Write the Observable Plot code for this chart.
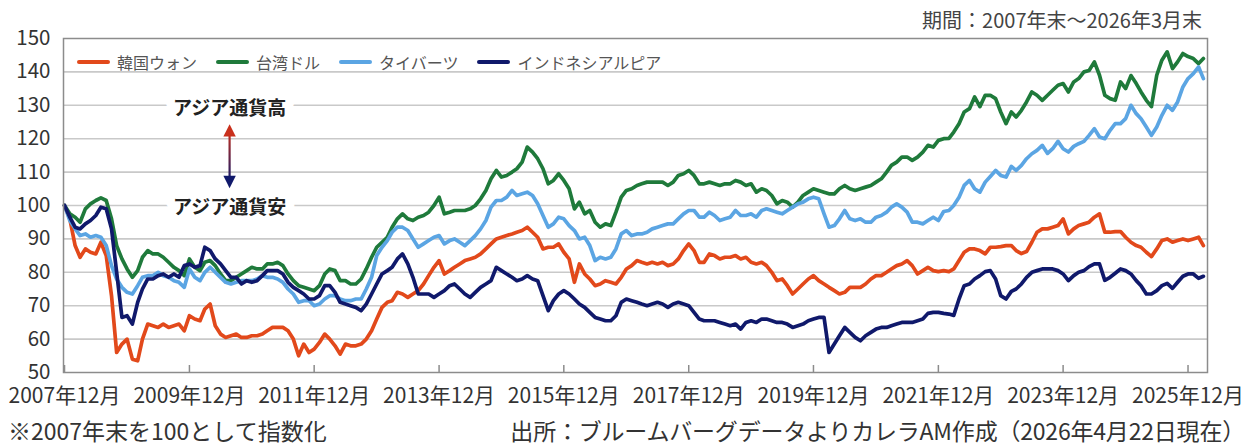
<!DOCTYPE html>
<html><head><meta charset="utf-8">
<script src="https://cdn.jsdelivr.net/npm/d3@7"></script>
<script src="https://cdn.jsdelivr.net/npm/@observablehq/plot@0.6"></script>
<style>
body{margin:0;background:#fff;font-family:"Noto Sans CJK JP","Noto Sans",sans-serif;}
#wrap{position:relative;width:1253px;height:446px;overflow:hidden;}
#period{position:absolute;top:6px;right:51px;font-size:20px;line-height:28px;color:#444;white-space:nowrap;}
#chart{position:absolute;top:30px;left:0;}
#legend{position:absolute;top:50px;left:77px;display:flex;align-items:center;height:24px;font-size:16px;color:#555;white-space:nowrap;}
#legend .sw{width:33px;height:4.5px;border-radius:2px;margin-right:7px;}
#legend .lb{margin-right:19px;}
#noteL{position:absolute;left:8px;top:414px;font-size:23px;line-height:32px;color:#333;white-space:nowrap;}
#noteR{position:absolute;right:8px;top:414px;font-size:23px;line-height:32px;color:#333;white-space:nowrap;letter-spacing:-0.2px;}
</style></head>
<body><div id="wrap">
<div id="period"></div>
<div id="chart"></div>
<div id="legend"></div>
<div id="noteL"></div>
<div id="noteR"></div>
</div>
<script>
const periodText = "期間：2007年末～2026年3月末";
const noteLeft = "※2007年末を100として指数化";
const noteRight = "出所：ブルームバーグデータよりカレラAM作成（2026年4月22日現在）";

const seriesNames = ["韓国ウォン", "台湾ドル", "タイバーツ", "インドネシアルピア"];
const seriesColors = ["#e2491b", "#1f7a3b", "#5ba5e3", "#10196b"];

// monthly index values, 2007-12 … 2026-03 (2007年末 = 100)
const krw = [
 100, 96, 88, 84.5, 87, 86, 85.5, 89, 85, 73, 56, 58.5,
 60, 54, 53.5, 60, 64.5, 64, 63.5, 64.5, 63.5, 64, 64.5, 62.5,
 67, 66, 65.5, 69, 70.5, 64, 61.5, 60.5, 61, 61.5, 60.5, 60.5,
 61, 61, 61.5, 62.5, 63.5, 63.5, 63.5, 62.5, 60, 55, 58.5, 56,
 57, 59, 61.5, 60, 58, 55.5, 58.5, 58, 58, 58.5, 60, 62.5,
 66, 69.5, 71, 71.5, 74, 73.5, 72.5, 73.5, 74.5, 76.5, 79, 81.5,
 83.5, 79.5, 80.5, 81.5, 82.5, 83.5, 84, 84.5, 85.5, 87, 88.5, 90,
 90.5, 91, 91.5, 92, 92.5, 93.5, 92, 90.5, 87, 87.5, 87.5, 88.5,
 86, 84, 77, 82.5, 79.5, 78, 76, 76.5, 77.5, 77, 76.5, 78.5,
 81, 82, 83.5, 83, 82.5, 83, 82.5, 83, 82, 82.5, 84, 86.5,
 88.5, 86.5, 83, 83, 85.5, 85, 84, 84.5, 84.5, 85, 84, 84.5,
 83, 82.5, 83, 82, 80, 77.5, 78, 76, 73.5, 75, 76.5, 78,
 79, 77.5, 76.5, 75.5, 74.5, 73.5, 74, 75.5, 75.5, 75.5, 76.5, 78,
 79, 79, 80, 81, 82, 82.5, 83.5, 82, 79.5, 80.5, 81.5, 80.5,
 80.2, 80.5, 80.2, 81, 83.5, 86, 87, 87, 86.5, 85.5, 87.5, 87.5,
 87.7, 88, 88, 86.5, 85.6, 86.2, 89, 92, 93, 93, 93.5, 94,
 96, 91.5, 93, 94, 94.5, 95, 96.5, 97.5, 92, 92, 92.2, 92.2,
 90.5, 89, 88, 87.5, 86, 84.7, 87, 89.5, 90, 89, 89.5, 90,
 89.5, 90, 90.5, 88
];
const twd = [
 100, 97.5, 96.5, 95, 99, 100.5, 101.5, 102.3, 101.5, 96, 88, 84,
 81, 78.5, 80.5, 84.5, 86.5, 85.5, 85.5, 84.5, 83, 81.5, 80.5, 79,
 84, 81.5, 80.5, 83, 83.5, 82, 79.5, 77.5, 77.5, 78.5, 79.5, 80.5,
 81.5, 81, 81, 82.5, 82.5, 83, 82, 79.5, 77.5, 76, 75.5, 75,
 74.5, 76, 79.5, 81, 80.5, 77.5, 77.5, 76.5, 76.5, 78, 81, 84.5,
 87.5, 89, 90.5, 93.5, 96, 97.5, 96, 95.5, 96.5, 97, 98, 100,
 102.5, 97.5, 98, 98.5, 98.5, 98.5, 99, 100, 102, 104.5, 108, 110.5,
 108.5, 109, 110, 111, 113, 117.5, 116, 114, 111, 106.5, 107.5, 109.5,
 107.5, 105, 99, 101, 97.5, 98.5, 95, 93.5, 94.5, 94, 98, 102.5,
 104.5, 105, 106, 106.5, 107, 107, 107, 107, 106, 107, 109, 109.5,
 110.5, 109, 106.5, 106.5, 107, 106.5, 106, 106.5, 106.5, 107.5, 107, 106,
 106.5, 104, 105, 104.5, 103, 100.5, 101.5, 101, 99.5, 101, 103, 104,
 105, 104.5, 104, 103.5, 103.5, 105, 106, 105, 104.5, 105, 105.5, 106,
 107, 108, 110, 112, 113, 114.5, 114.5, 113.5, 114.5, 116, 118, 117.5,
 119.5, 120, 120.1, 122, 124.5, 128, 129, 132.5, 129.6, 133, 133, 132,
 128, 124.5, 128, 126.5, 128.5, 131, 134, 133, 131.5, 133, 134.5, 136,
 136.5, 134, 137, 138, 140, 140.4, 143, 139, 133, 132, 131.5, 137,
 135, 138.9, 136.5, 134, 131.5, 129.6, 139, 143.5, 146, 141, 143, 145.5,
 144.6, 144, 142.5, 144
];
const thb = [
 100, 95.5, 93, 91, 91.5, 90.5, 91, 90.5, 88, 82, 78, 75.5,
 74, 73.5, 76, 78.5, 79, 79, 80, 79, 78.5, 77.5, 77, 75.5,
 81, 78.5, 77.5, 80, 81.5, 80, 78.5, 77, 76.5, 77, 77.5, 77.5,
 77.5, 78, 79, 78.5, 78.5, 78, 77, 75, 73.5, 71, 71.5, 71.5,
 70, 70.5, 72, 73, 73, 72, 71.5, 71.5, 72, 72, 75, 78.5,
 85, 87.5, 89.5, 92, 93.5, 93.5, 92.5, 90, 87.5, 88.5, 89.5, 90.5,
 91, 88.5, 89.5, 90, 89, 88, 89.5, 91, 93, 95.5, 99.5, 101.5,
 101.5, 102.5, 104.5, 103, 103.5, 104, 103, 100.5, 97, 93.5, 94.5, 96.5,
 96, 94, 92.5, 90, 90.5, 88, 83.5, 84.5, 84, 84.5, 87, 91.5,
 92.5, 91, 91.5, 91.5, 92, 93, 93.5, 94, 94.5, 94.5, 96, 97.5,
 98.5, 98.5, 96.5, 96.5, 98, 97, 95.5, 96, 96.5, 98.5, 97, 97,
 97.5, 96.5, 98.5, 99, 98.5, 98, 97.5, 98.5, 99.5, 100.5, 101, 102,
 102.5, 102, 97.5, 93.5, 94, 96, 98.5, 96, 95.5, 96, 95, 95,
 96.5, 97, 98, 99.5, 100.5, 99.5, 98, 95, 95, 94.5, 95.5, 96.5,
 95.5, 98.2, 98.5, 100, 102.5, 106, 107.5, 105, 104, 107, 108.7, 110.5,
 109, 108.5, 111.7, 110.5, 112, 114, 115.5, 116.5, 118, 115.6, 117, 119.2,
 117, 116, 117.7, 118.5, 119.2, 121, 123, 120.5, 120, 122.5, 124.5, 124.5,
 126, 130, 127.5, 126, 123.5, 121, 123.5, 127, 130, 128.5, 131, 135.5,
 138, 139.5, 141.5, 138
];
const idr = [
 100, 96.5, 93.5, 93, 94.5, 95.5, 97, 99.5, 99, 93, 80, 66.5,
 67, 64.5, 71, 75, 78, 78, 79, 79.5, 78.5, 79.5, 78.5, 82,
 82.5, 81.5, 82, 87.5, 86.5, 84, 82.5, 80.5, 78.5, 78.5, 76.5, 77.5,
 77, 77.5, 79, 80.5, 80.5, 80.5, 79.5, 77, 75.5, 74.5, 73.5, 72,
 72, 73, 76, 76, 74, 71, 70.5, 70, 69.5, 68.5, 70.5, 73.5,
 76.5, 79.5, 80.5, 81.5, 84, 85.5, 82.5, 78.5, 73.5, 73.5, 73.5, 72.5,
 73.5, 74.5, 76, 76.5, 75, 73.5, 72.5, 74, 75.5, 76.5, 77.5, 81.5,
 80.5, 79.5, 78.5, 77.5, 78, 79, 78, 77.5, 73, 68.5, 71.5, 73.5,
 74.5, 73.5, 72, 70.5, 69.5, 68, 66.5, 66, 65.5, 65.5, 67, 71,
 72, 71.5, 71, 70.5, 70, 70.5, 71, 70.5, 69.5, 70.5, 71, 70.5,
 70, 68, 66, 65.5, 65.5, 65.5, 65, 64.5, 64, 64.5, 63, 65,
 65.5, 65, 66, 66, 65.5, 65, 65, 64.5, 63.5, 64, 64.5, 65.5,
 66, 66.5, 66.5, 56, 58.5, 61, 63.5, 62, 60.5, 59.5, 61, 62,
 63, 63.5, 63.5, 64, 64.5, 65, 65, 65, 65.5, 66, 67.7, 68,
 68, 67.7, 67.5, 67.1, 72, 76, 76.5, 78, 79, 80.2, 80.5, 78,
 73, 72, 74.3, 75, 76.5, 78.5, 80, 80.5, 81, 81, 81, 80.5,
 79.5, 77.5, 79, 80, 80.5, 81.7, 82.5, 82.5, 77.6, 78.5, 79.7, 81,
 80.5, 79.5, 77.5, 76, 73.5, 73.5, 74.5, 76, 76.7, 75.2, 77, 78.8,
 79.5, 79.5, 78.2, 78.8
];
const seriesValues = [krw, twd, thb, idr];

const tickDates = ["2007-12-01","2009-12-01","2011-12-01","2013-12-01","2015-12-01","2017-12-01","2019-12-01","2021-12-01","2023-12-01","2025-12-01"].map(d => new Date(d));
const tickLabels = ["2007年12月","2009年12月","2011年12月","2013年12月","2015年12月","2017年12月","2019年12月","2021年12月","2023年12月","2025年12月"];
const yTicks = [50, 60, 70, 80, 90, 100, 110, 120, 130, 140, 150];

const noteLabels = ["アジア通貨高", "アジア通貨安"];
const noteDate = new Date("2010-07-24");
const noteValues = [129, 99.3];
const arrowTop = 122.3, arrowBottom = 107.2;

const months = d3.utcMonth.range(new Date(Date.UTC(2007, 11, 1)), new Date(Date.UTC(2026, 3, 1)));
const data = seriesValues.flatMap((vals, i) => vals.map((v, j) => ({date: months[j], value: v, name: seriesNames[i]})));

const labelOf = new Map(tickDates.map((d, i) => [+d, tickLabels[i]]));

const triUp = {draw(c, size) { const h = Math.sqrt(size); c.moveTo(0, -h * 0.55); c.lineTo(h * 0.5, h * 0.45); c.lineTo(-h * 0.5, h * 0.45); c.closePath(); }};
const triDown = {draw(c, size) { const h = Math.sqrt(size); c.moveTo(0, h * 0.55); c.lineTo(h * 0.5, -h * 0.45); c.lineTo(-h * 0.5, -h * 0.45); c.closePath(); }};

const chart = Plot.plot({
  width: 1253, height: 380,
  marginLeft: 63, marginRight: 46, marginTop: 8, marginBottom: 38,
  style: {fontFamily: '"Noto Sans CJK JP", "Noto Sans", sans-serif', background: "transparent", overflow: "visible"},
  x: {type: "utc", domain: [new Date("2007-11-25"), new Date("2026-03-25")], label: null},
  y: {domain: [50, 150], label: null},
  color: {domain: seriesNames, range: seriesColors},
  marks: [
    Plot.gridY(yTicks.slice(1, -1), {stroke: "#c9c9c9", strokeOpacity: 1, strokeWidth: 1.6}),
    Plot.axisY(yTicks, {tickSize: 0, tickPadding: 13, fontSize: 20.5, fill: "#333", label: null}),
    Plot.axisX(tickDates, {tickSize: 0, tickPadding: 16, fontSize: 21, fill: "#333", label: null, tickFormat: d => labelOf.get(+d)}),
    Plot.ruleX(tickDates, {y1: 50, y2: 52.1, stroke: "#8c8c8c", strokeWidth: 1.5}),
    Plot.text(noteLabels, {x: () => noteDate, y: (d, i) => noteValues[i], text: d => d, fontSize: 19, fontWeight: 600, fill: "#222", stroke: "white", strokeWidth: 18}),
    Plot.ruleX([noteDate], {y1: arrowTop, y2: arrowBottom, stroke: "url(#arrowGrad)", strokeWidth: 2.2}),
    Plot.dot([noteDate], {x: d => d, y: () => arrowTop, symbol: triUp, r: 7, fill: "#c9301c", stroke: null}),
    Plot.dot([noteDate], {x: d => d, y: () => arrowBottom, symbol: triDown, r: 7, fill: "#10196b", stroke: null}),
    Plot.line(data, {x: "date", y: "value", z: "name", stroke: "name", strokeWidth: 3.7, strokeLinejoin: "round"}),
    Plot.frame({stroke: "#8c8c8c", strokeWidth: 1.5})
  ]
});

const ys = chart.scale("y");
const defs = d3.select(chart).insert("defs", ":first-child");
const grad = defs.append("linearGradient").attr("id", "arrowGrad").attr("gradientUnits", "userSpaceOnUse")
  .attr("x1", 0).attr("x2", 0).attr("y1", ys.apply(arrowTop)).attr("y2", ys.apply(arrowBottom));
grad.append("stop").attr("offset", "0%").attr("stop-color", "#c9301c");
grad.append("stop").attr("offset", "100%").attr("stop-color", "#10196b");

document.getElementById("chart").appendChild(chart);
document.getElementById("period").textContent = periodText;
document.getElementById("noteL").textContent = noteLeft;
document.getElementById("noteR").textContent = noteRight;
const lg = document.getElementById("legend");
seriesNames.forEach((n, i) => {
  const sw = document.createElement("span"); sw.className = "sw"; sw.style.background = seriesColors[i];
  const lb = document.createElement("span"); lb.className = "lb"; lb.textContent = n;
  lg.appendChild(sw); lg.appendChild(lb);
});
</script>
</body></html>
